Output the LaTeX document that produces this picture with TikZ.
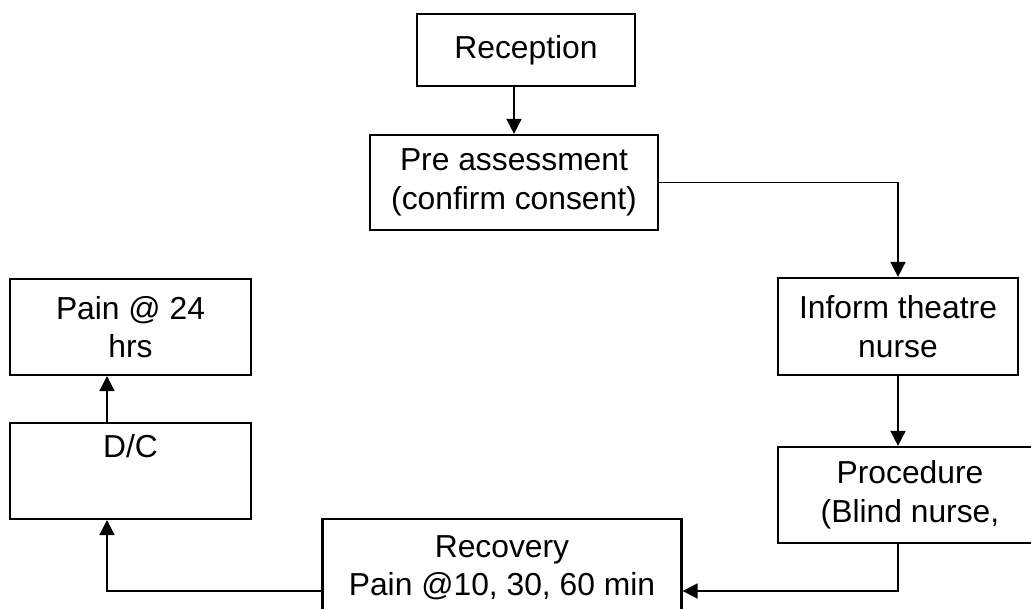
\documentclass[tikz,border=0pt]{standalone}
\usepackage{fontspec}
\setmainfont{Liberation Sans}
\usetikzlibrary{arrows.meta}
\tikzset{
  box/.style={draw, line width=2.2pt, inner sep=0pt, align=center,
    font=\fontsize{31.8}{38.5}\selectfont},
  arr/.style={line width=1.6pt, -{Triangle[width=15pt,length=15pt]}},
  conn/.style={line width=1.6pt}
}
\begin{document}
\begin{tikzpicture}[x=1pt,y=-1pt]
\useasboundingbox (0,0) rectangle (1031,609);
\clip (0,0) rectangle (1031,609);
\fill[white] (0,0) rectangle (1031,609);
\node[box, minimum width=218pt, minimum height=72pt] (rec) at (526,50) {Reception};
\node[box, minimum width=288pt, minimum height=95pt] (pre) at (514,182.5) {Pre assessment\\(confirm consent)};
\node[box, minimum width=240pt, minimum height=97pt] (inf) at (898,326.5) {Inform theatre\\nurse};
\node[box, minimum width=264pt, minimum height=96pt] (proc) at (910,495) {Procedure\\(Blind nurse,};
\node[box, minimum width=359pt, minimum height=98pt] (recov) at (502,568) {Recovery\\Pain @10, 30, 60 min};
\node[box, minimum width=241pt, minimum height=96pt] (dc) at (130.5,471) {D/C\\\strut};
\node[box, minimum width=241pt, minimum height=96pt] (pain) at (130.5,327) {Pain @ 24\\hrs};
\coordinate (c1) at (898,591);
\coordinate (c2) at (107,591);
\draw[arr] (pre.north |- rec.south) -- (pre.north);
\draw[arr] (pre.east) -- (inf.north |- pre.east) -- (inf.north);
\draw[arr] (inf.south) -- (inf.south |- proc.north);
\draw[arr] (c1 |- proc.south) -- (c1) -- (c1 -| recov.east);
\draw[arr] (c2 -| recov.west) -- (c2) -- (c2 |- dc.south);
\draw[arr] (c2 |- dc.north) -- (c2 |- pain.south);
\end{tikzpicture}
\end{document}
